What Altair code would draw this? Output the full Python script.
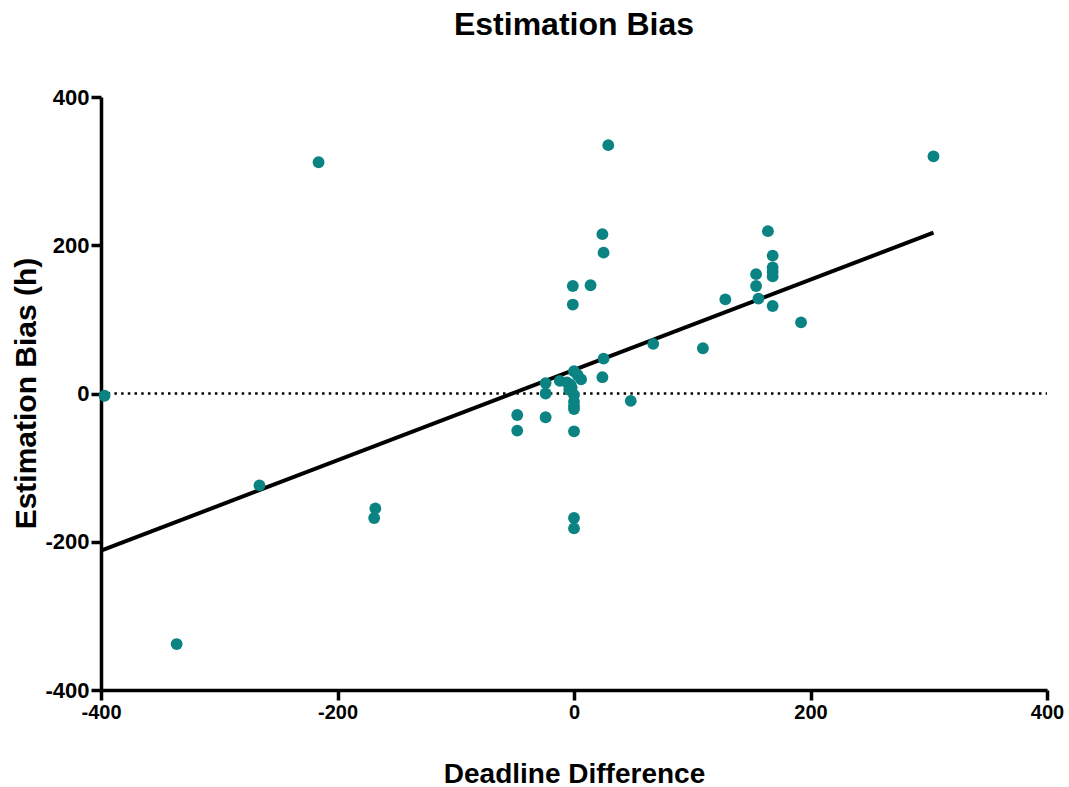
import altair as alt
import pandas as pd

# Scatter data
deadline_diff = [-397, -216, -266, -168, -169, -336,
                 29, 24, 25, -1, 14, -1, 67, 25, 24, 48,
                 -24, -24, -48, -48, -24, 0, -12,
                 0, 3, 6, -3, -4, 0, 0, 0, 0, -6, -2,
                 0, 0,
                 164, 168, 168, 168, 168, 154, 154, 128, 156, 168, 192, 109, 304]
estimation_bias = [-3, 312, -124, -155, -168, -338,
                   335, 215, 190, 145, 146, 120, 67, 47, 22, -10,
                   14, 0, -29, -50, -32, -51, 17,
                   30, 25, 19, 12, 5, -2, -11, -17, -21, 15, 8,
                   -168, -182,
                   219, 186, 170, 164, 158, 161, 145, 127, 128, 118, 96, 61, 320]

# Fitted line end points
fit_x = [-400, 304]
fit_y = [-212, 217]

# zero reference line
zero_x = [-400, 400]
zero_y = [0, 0]

tick_values = [-400, -200, 0, 200, 400]

pts = pd.DataFrame({"x": deadline_diff, "y": estimation_bias})
fit = pd.DataFrame({"x": fit_x, "y": fit_y})
zero = pd.DataFrame({"x": zero_x, "y": zero_y})

FONT = "Liberation Sans"

xscale = alt.Scale(domain=[-400, 400], nice=False, zero=False)
yscale = alt.Scale(domain=[-400, 400], nice=False, zero=False)

common = dict(grid=False, domainColor="black", domainWidth=3.5, tickColor="black",
              tickWidth=3.5, tickSize=10, labelFont=FONT,
              labelFontWeight="bold", labelColor="black", labelPadding=2,
              labelFlush=False, labelExpr="datum.value + ''",
              titleFont=FONT, titleFontWeight="bold", titleColor="black")

xaxis = alt.Axis(values=tick_values, title="Deadline Difference", labelFontSize=20,
                 titleFontSize=28, titleX=473, titleY=92,
                 titleBaseline="alphabetic", **common)
yaxis = alt.Axis(values=tick_values, title="Estimation Bias (h)", labelFontSize=22,
                 titleFontSize=30, titleX=-75, titleY=296,
                 titleBaseline="middle", titleAngle=-90, **common)

zero_line = alt.Chart(zero).mark_line(color="black", strokeWidth=2.5, strokeDash=[2.5, 4.2]).encode(
    x=alt.X("x:Q", scale=xscale, axis=xaxis),
    y=alt.Y("y:Q", scale=yscale, axis=yaxis),
)
fit_line = alt.Chart(fit).mark_line(color="black", strokeWidth=4).encode(
    x=alt.X("x:Q", scale=xscale),
    y=alt.Y("y:Q", scale=yscale),
)
points = alt.Chart(pts).mark_circle(color="#0b8383", opacity=1, size=140).encode(
    x=alt.X("x:Q", scale=xscale),
    y=alt.Y("y:Q", scale=yscale),
)

chart = alt.layer(zero_line, fit_line, points).properties(
    width=946, height=593,
    background="white",
    title=alt.TitleParams("Estimation Bias", font=FONT, fontSize=32, fontWeight="bold",
                          color="black", anchor="middle", offset=44),
    autosize=alt.AutoSizeParams(type="none"),
    padding={"left": 101, "top": 97, "right": 22, "bottom": 97},
).configure_view(stroke="transparent", strokeWidth=0)

chart.save("out.html", embed_options={"renderer": "svg", "actions": False})
